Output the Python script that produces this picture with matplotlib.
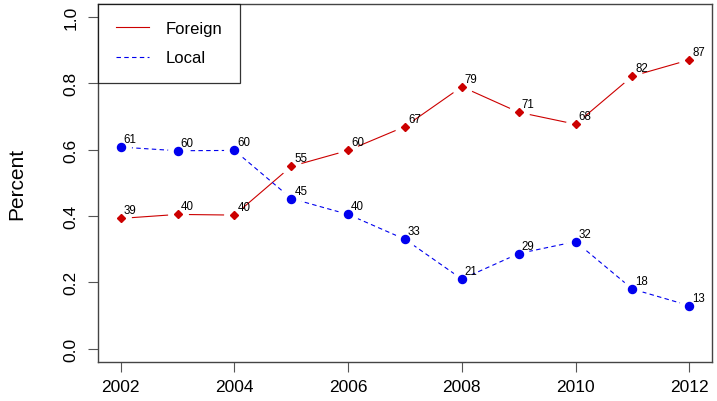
import matplotlib.pyplot as plt
from matplotlib.lines import Line2D

plt.rcParams['font.family'] = ['Liberation Sans', 'DejaVu Sans']

years = [2002, 2003, 2004, 2005, 2006, 2007, 2008, 2009, 2010, 2011, 2012]
foreign = [0.393, 0.405, 0.403, 0.550, 0.598, 0.670, 0.790, 0.713, 0.677, 0.822, 0.871]
local = [0.608, 0.597, 0.598, 0.453, 0.405, 0.330, 0.210, 0.287, 0.323, 0.180, 0.130]
foreign_labels = [39, 40, 40, 55, 60, 67, 79, 71, 68, 82, 87]
local_labels = [61, 60, 60, 45, 40, 33, 21, 29, 32, 18, 13]

red = '#CC0000'
blue = '#0000EE'

fig = plt.figure(figsize=(7.17, 4.02), dpi=100)
ax = fig.add_axes([0.1367, 0.097, 0.8563, 0.891])

# lines, then white halos to mimic R's type="b" gaps, then the points
ax.plot(years, foreign, color=red, lw=0.8, zorder=2)
ax.plot(years, local, color=blue, lw=0.8, ls=(0, (4, 3)), zorder=2)
ax.plot(years, foreign, ls='none', marker='o', ms=14, color='white', zorder=3)
ax.plot(years, local, ls='none', marker='o', ms=14, color='white', zorder=3)
ax.plot(years, foreign, ls='none', marker='D', ms=3.8, color=red, zorder=4)
ax.plot(years, local, ls='none', marker='o', ms=5.8, color=blue, zorder=4)

for x, y, s in zip(years, foreign, foreign_labels):
    ax.annotate(str(s), (x, y), xytext=(3, 2), textcoords='offset pixels',
                fontsize=8.3, ha='left', va='bottom', zorder=5)
for x, y, s in zip(years, local, local_labels):
    ax.annotate(str(s), (x, y), xytext=(3, 2), textcoords='offset pixels',
                fontsize=8.3, ha='left', va='bottom', zorder=5)

ax.set_xlim(2001.6, 2012.4)
ax.set_ylim(-0.04, 1.04)
ax.set_xticks([2002, 2004, 2006, 2008, 2010, 2012])
ax.set_yticks([0.0, 0.2, 0.4, 0.6, 0.8, 1.0])
ax.set_yticklabels(['0.0', '0.2', '0.4', '0.6', '0.8', '1.0'], rotation=90, va='center')
ax.tick_params(labelsize=12.5, length=7, width=0.8, color='#555555')
ax.tick_params(axis='x', pad=5)
ax.tick_params(axis='y', pad=7)
for sp in ax.spines.values():
    sp.set_color('#444444')
    sp.set_linewidth(1.0)
ax.set_ylabel('Percent', fontsize=15, labelpad=27)

handles = [Line2D([], [], color=red, lw=0.8),
           Line2D([], [], color=blue, lw=0.8, ls=(0, (4, 3)))]
leg = ax.legend(handles, ['Foreign', 'Local'], loc='upper left', fontsize=12,
                frameon=True, fancybox=False, borderaxespad=0, handlelength=2.0,
                handletextpad=1.0, borderpad=1.05, labelspacing=0.85)
leg.get_frame().set_edgecolor('black')
leg.get_frame().set_linewidth(0.9)

fig.savefig('out.png', dpi=100)
